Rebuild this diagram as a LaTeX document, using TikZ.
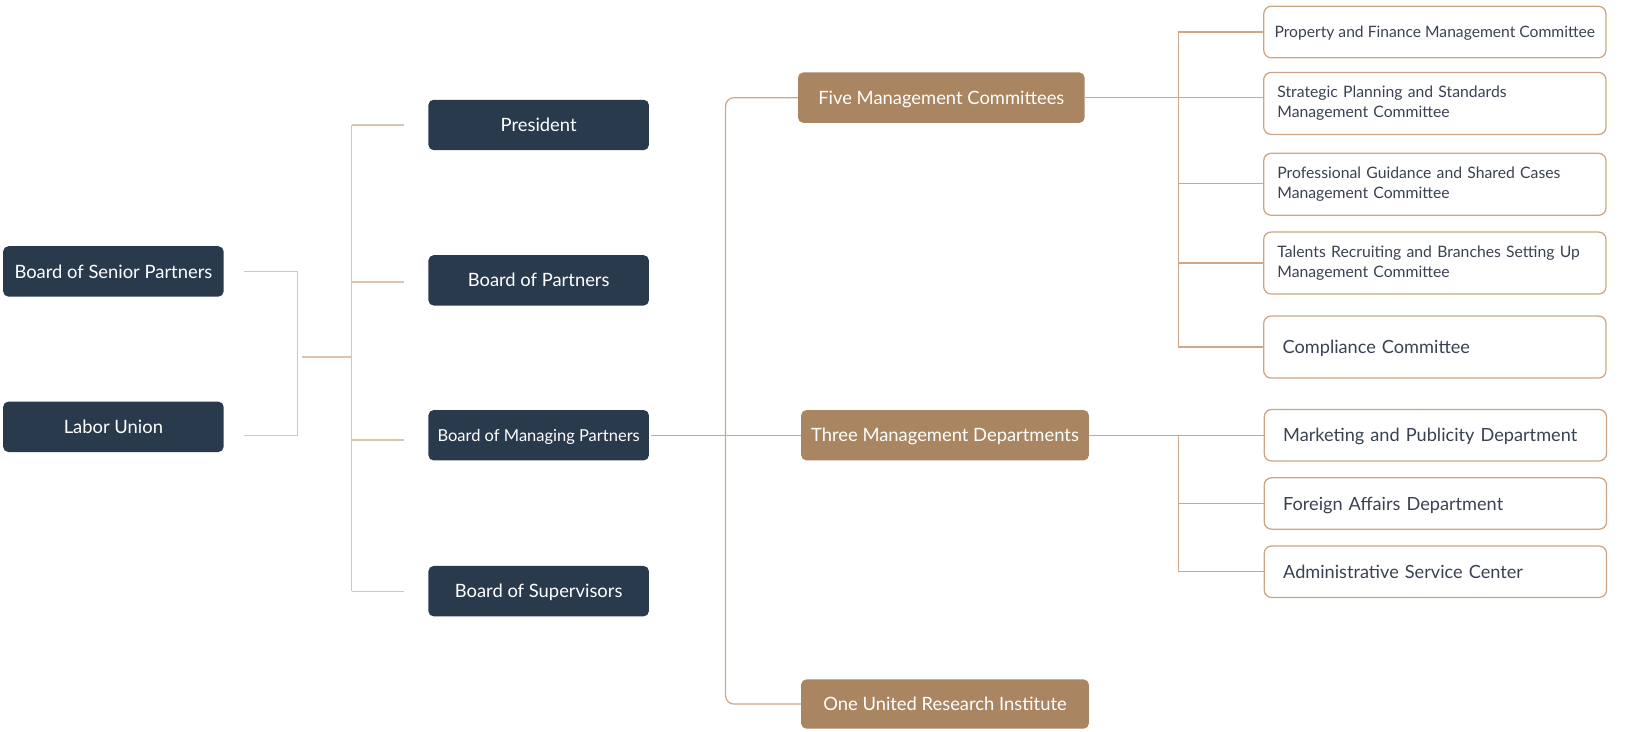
\documentclass[tikz,border=0pt]{standalone}
\usepackage{fontspec}
\setmainfont{Lato}
\definecolor{navy}{HTML}{293A4D}
\definecolor{tanc}{HTML}{A98561}
\definecolor{lline}{HTML}{DBC5AE}
\definecolor{rline}{HTML}{CBA98A}
\definecolor{wborder}{HTML}{CBA684}
\definecolor{txt}{HTML}{3A4252}
\tikzset{
  darkbox/.style={fill=navy, text=white, rounded corners=5, minimum width=210, minimum height=48, inner sep=0, font=\fontsize{17.5}{21}\selectfont, text height=16.3pt, text depth=3.7pt},
  brownbox/.style={fill=tanc, text=white, rounded corners=5, minimum width=274, minimum height=48, inner sep=0, font=\fontsize{17.5}{21}\selectfont, text height=16.3pt, text depth=3.7pt},
  wbox/.style={draw=wborder, line width=1.2, fill=white, rounded corners=7, text=txt, align=left, minimum height=59, inner ysep=0},
  smalltxt/.style={font=\fontsize{15}{19}\selectfont, inner xsep=13, text width=300},
  bigtxt/.style={font=\fontsize{17.3}{21}\selectfont, inner xsep=18, text width=290, minimum height=49, text height=16.1pt, text depth=3.6pt},
  lconn/.style={draw=lline, line width=1.2},
  rconn/.style={draw=rline, line width=1.2},
}
\begin{document}
\begin{tikzpicture}[x=1pt,y=-1pt]
\useasboundingbox (0,0) rectangle (1567.6,697);
% left column
\node[darkbox] (bsp) at (108,258.5) {Board of Senior Partners};
\node[darkbox] (lu) at (108,406.5) {Labor Union};
% second column
\node[darkbox] (pres) at (513,119) {President};
\node[darkbox] (bop) at (513,267) {Board of Partners};
\node[darkbox, font=\fontsize{15.7}{19}\selectfont, text height=14.6pt, text depth=3.3pt] (bmp) at (513,414.5) {Board of Managing Partners};
\node[darkbox] (bos) at (513,563) {Board of Supervisors};
% third column
\node[brownbox, minimum width=273] (five) at (896.5,93) {Five Management Committees};
\node[brownbox] (three) at (900,414.5) {Three Management Departments};
\node[brownbox, minimum height=47] (one) at (900,670.5) {One United Research Institute};
% right column
\node[wbox, font=\fontsize{14.9}{19}\selectfont, inner xsep=0, minimum width=325.8, minimum height=49, text height=13.9pt, text depth=3.2pt] (prop) at (1366.5,30.5) {Property and Finance Management Committee};
\node[wbox, smalltxt] (strat) at (1366.5,98.5) {Strategic Planning and Standards\\Management Committee};
\node[wbox, smalltxt] (prof) at (1366.5,175.5) {Professional Guidance and Shared Cases\\Management Committee};
\node[wbox, smalltxt] (tal) at (1366.5,250.5) {Talents Recruiting and Branches Setting Up\\Management Committee};
\node[wbox, bigtxt, minimum height=59] (comp) at (1366.5,330.5) {Compliance Committee};
\node[wbox, bigtxt] (mkt) at (1367,414.5) {Marketing and Publicity Department};
\node[wbox, bigtxt] (fa) at (1367,479.5) {Foreign Affairs Department};
\node[wbox, bigtxt] (adm) at (1367,544.5) {Administrative Service Center};
% connector coordinates
\coordinate (a1) at (232,258.5);
\coordinate (a2) at (232,415);
\coordinate (b1) at (283,0);
\coordinate (m1) at (288,340);
\coordinate (sp) at (335,0);
\coordinate (br) at (385,0);
\coordinate (s2) at (691,0);
\coordinate (s3) at (1122,0);
% left bracket
\draw[lconn] (a1) -- (a1 -| b1) -- (a2 -| b1) -- (a2);
\draw[lconn] (m1) -- (m1 -| sp);
\draw[lconn] (sp |- pres.center) -- (sp |- bos.center);
\draw[lconn] (sp |- pres.center) -- (br |- pres.center);
\draw[lconn] (sp |- 0,268.5) -- (br |- 0,268.5);
\draw[lconn] (sp |- 0,419) -- (br |- 0,419);
\draw[lconn] (sp |- bos.center) -- (br |- bos.center);
% middle
\draw[rconn] (bmp.east) ++(2,0) -- (three.west);
\draw[rconn, rounded corners=8] (five.west) -- (five.west -| s2) -- (one.west -| s2) -- (one.west);
% five committees
\draw[rconn] (five.east) -- (five.east -| strat.west);
\draw[rconn] (prop.west) -- (prop.west -| s3) -- (comp.west -| s3) -- (comp.west);
\draw[rconn] (0,174.5 -| s3) -- (0,174.5 -| prof.west);
\draw[rconn] (0,250.5 -| s3) -- (0,250.5 -| tal.west);
% three departments
\draw[rconn] (three.east) -- (mkt.west);
\draw[rconn] (mkt.west -| s3) -- (adm.west -| s3) -- (adm.west);
\draw[rconn] (fa.west -| s3) -- (fa.west);
\end{tikzpicture}
\end{document}
